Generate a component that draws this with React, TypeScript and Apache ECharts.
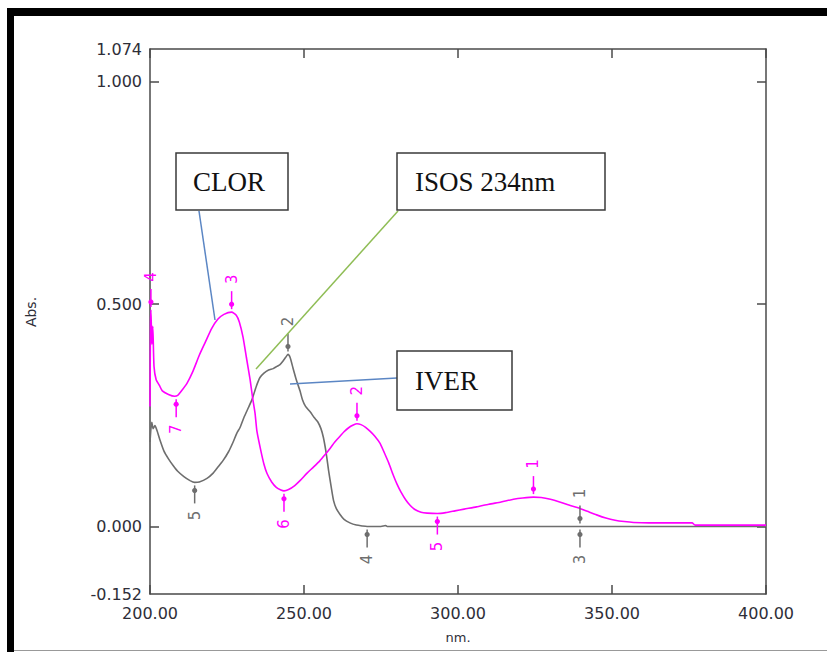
import React, { useEffect, useRef } from "react";
import * as echarts from "echarts";

// Magenta spectrum (CLOR)
const clorNm = [200.0, 200.15, 200.3, 200.6, 200.9, 201.3, 202, 203, 204, 206, 208, 209, 210, 212, 214, 216, 218, 220, 222, 224, 226.5, 228, 229, 230.2, 231.3, 232.5, 233.3, 234.1, 234.7, 236, 237, 238, 239.5, 241, 242.5, 243.5, 245, 247, 248.7, 251, 253, 255.2, 257, 258.4, 260, 261.7, 263, 264.5, 266, 267.2, 268.5, 270, 271.5, 273, 274.7, 276, 277.5, 279, 280.2, 281.5, 283, 284.5, 286, 288, 290, 293.3, 296, 299, 302, 306, 310, 314, 318, 321, 324.5, 327, 330, 333, 336, 339, 342, 345, 348, 351, 354, 357, 362, 370, 376, 377, 390, 400];
const clorAbs = [0.27, 0.45, 0.487, 0.41, 0.45, 0.36, 0.33, 0.318, 0.305, 0.297, 0.293, 0.295, 0.303, 0.322, 0.35, 0.385, 0.415, 0.445, 0.466, 0.477, 0.482, 0.475, 0.46, 0.426, 0.38, 0.33, 0.29, 0.255, 0.215, 0.17, 0.14, 0.119, 0.1, 0.088, 0.082, 0.08, 0.083, 0.092, 0.103, 0.12, 0.133, 0.148, 0.163, 0.175, 0.19, 0.203, 0.213, 0.222, 0.228, 0.231, 0.229, 0.223, 0.214, 0.203, 0.187, 0.167, 0.143, 0.115, 0.095, 0.077, 0.06, 0.047, 0.038, 0.032, 0.03, 0.029, 0.031, 0.035, 0.039, 0.044, 0.05, 0.055, 0.061, 0.064, 0.066, 0.065, 0.061, 0.055, 0.048, 0.042, 0.034, 0.026, 0.019, 0.014, 0.011, 0.009, 0.008, 0.008, 0.008, 0.003, 0.003, 0.003];

// Gray spectrum (IVER)
const iverNm = [200.0, 200.3, 200.6, 201.0, 201.6, 202.3, 203.2, 204.5, 206, 207.5, 209, 211, 213, 214.5, 216, 218.5, 220.5, 222, 223.7, 225.5, 227, 228.2, 229.2, 230.5, 232, 233.2, 234.5, 235.7, 237, 238.5, 240, 241.2, 242.2, 243.2, 244, 244.8, 245.5, 246.4, 247.5, 248.7, 249.5, 250.5, 252, 253.3, 254.5, 255.5, 256.3, 257.2, 258, 258.8, 259.6, 260.5, 261.7, 263, 264.9, 267, 269, 270.5, 275, 276.5, 277, 300, 350, 400];
const iverAbs = [0.19, 0.22, 0.234, 0.22, 0.227, 0.215, 0.195, 0.17, 0.152, 0.137, 0.124, 0.112, 0.103, 0.099, 0.1, 0.108, 0.12, 0.133, 0.148, 0.168, 0.19, 0.21, 0.222, 0.245, 0.268, 0.287, 0.315, 0.335, 0.345, 0.352, 0.355, 0.36, 0.364, 0.372, 0.38, 0.387, 0.38, 0.357, 0.33, 0.305, 0.285, 0.27, 0.258, 0.245, 0.235, 0.22, 0.2, 0.165, 0.125, 0.09, 0.058, 0.04, 0.027, 0.016, 0.008, 0.003, 0.001, 0, 0, 0.002, 0, 0, 0, 0];

// Peak / valley picks: [nm, abs, number, direction(1 = peak, -1 = valley)]
const clorPickNm = [324.5, 267.2, 226.5, 200.3, 293.3, 243.5, 208.5];
const clorPickAbs = [0.066, 0.231, 0.482, 0.487, 0.029, 0.08, 0.293];
const clorPickNum = [1, 2, 3, 4, 5, 6, 7];
const clorPickDir = [1, 1, 1, 1, -1, -1, -1];

const iverPickNm = [339.6, 244.8, 339.6, 270.5, 214.5];
const iverPickAbs = [0, 0.387, 0, 0, 0.099];
const iverPickNum = [1, 2, 3, 4, 5];
const iverPickDir = [1, 1, -1, -1, -1];

const xTickValues = [200, 250, 300, 350, 400];
const yLabelValues = [-0.152, 0, 0.5, 1.0, 1.074];
const yTickValues = [0, 0.5, 1.0];

const MAGENTA = "#ff00ff";
const GRAY = "#6e6e6e";
const AXIS = "#4a4a4a";
const LABEL = "#2e2e38";
const SANS = '"DejaVu Sans", Verdana, sans-serif';
const SERIF = '"Liberation Serif", "Times New Roman", serif';

function pickRenderer(color: string) {
  return (params: any, api: any) => {
    const nm = api.value(0);
    const abs = api.value(1);
    const num = api.value(2);
    const dir = api.value(3);
    const p = api.coord([nm, abs]);
    const s = dir > 0 ? -1 : 1;
    return {
      type: "group",
      children: [
        {
          type: "line",
          shape: { x1: p[0], y1: p[1] + s * 3, x2: p[0], y2: p[1] + s * 21 },
          style: { stroke: color, lineWidth: 1.5 },
        },
        {
          type: "circle",
          shape: { cx: p[0], cy: p[1] + s * 8, r: 2.6 },
          style: { fill: color },
        },
        {
          type: "text",
          x: p[0],
          y: p[1] + s * 33,
          rotation: Math.PI / 2,
          style: {
            text: String(num),
            fill: color,
            font: `15px ${SANS}`,
            align: "center",
            verticalAlign: "middle",
          },
        },
      ],
    };
  };
}

function zip(a: number[], b: number[]) {
  return a.map((v, i) => [v, b[i]]);
}

export default function App() {
  const ref = useRef<HTMLDivElement>(null);
  useEffect(() => {
    if (!ref.current) return;
    const chart = echarts.init(ref.current, undefined, { renderer: "svg" });
    const clorPicks = clorPickNm.map((v, i) => [v, clorPickAbs[i], clorPickNum[i], clorPickDir[i]]);
    const iverPicks = iverPickNm.map((v, i) => [v, iverPickAbs[i], iverPickNum[i], iverPickDir[i]]);
    const axisLine = { show: true, onZero: false, lineStyle: { color: AXIS, width: 1.5 } };
    const baseX = {
      type: "value",
      min: xTickValues[0],
      max: xTickValues[xTickValues.length - 1],
      interval: 50,
      axisLine,
      splitLine: { show: false },
      axisTick: { show: true, inside: true, length: 9, lineStyle: { color: AXIS, width: 1.5 } },
    };
    const baseY = {
      type: "value",
      min: yLabelValues[0],
      max: yLabelValues[yLabelValues.length - 1],
      axisLine,
      splitLine: { show: false },
      axisTick: {
        show: true,
        inside: true,
        length: 9,
        customValues: yTickValues,
        lineStyle: { color: AXIS, width: 1.5 },
      },
    };
    chart.setOption({
      animation: false,
      backgroundColor: "#ffffff",
      grid: { left: 150, top: 49, width: 616, height: 545, containLabel: false },
      xAxis: [
        {
          ...baseX,
          position: "bottom",
          name: "nm.",
          nameLocation: "middle",
          nameGap: 37,
          nameTextStyle: { color: LABEL, fontSize: 13, fontFamily: SANS },
          axisLabel: {
            show: true,
            margin: 11,
            color: LABEL,
            fontSize: 16,
            fontFamily: SANS,
            formatter: (v: number) => v.toFixed(2),
          },
        },
        { ...baseX, position: "top", axisLabel: { show: false } },
      ],
      yAxis: [
        {
          ...baseY,
          position: "left",
          axisLabel: {
            show: true,
            margin: 8,
            color: LABEL,
            fontSize: 16,
            fontFamily: SANS,
            customValues: yLabelValues,
            formatter: (v: number) => v.toFixed(3),
          },
        },
        { ...baseY, position: "right", axisLabel: { show: false } },
      ],
      series: [
        {
          name: "IVER",
          type: "line",
          data: zip(iverNm, iverAbs),
          showSymbol: false,
          smooth: 0.2,
          lineStyle: { color: GRAY, width: 1.6 },
          z: 2,
        },
        {
          name: "CLOR",
          type: "line",
          data: zip(clorNm, clorAbs),
          showSymbol: false,
          smooth: 0.2,
          lineStyle: { color: MAGENTA, width: 1.6 },
          z: 3,
        },
        {
          type: "custom",
          renderItem: pickRenderer(GRAY),
          data: iverPicks,
          encode: { x: 0, y: 1 },
          clip: false,
          z: 4,
        },
        {
          type: "custom",
          renderItem: pickRenderer(MAGENTA),
          data: clorPicks,
          encode: { x: 0, y: 1 },
          clip: false,
          z: 5,
        },
      ],
      graphic: [
        { type: "rect", shape: { x: 7, y: 8, width: 820, height: 8 }, style: { fill: "#000" }, z: 100 },
        { type: "rect", shape: { x: 7, y: 8, width: 7, height: 644 }, style: { fill: "#000" }, z: 100 },
        { type: "line", shape: { x1: 14, y1: 650.5, x2: 827, y2: 650.5 }, style: { stroke: "#999", lineWidth: 1 }, z: 100 },
        // y axis title
        { type: "text", x: 31, y: 312, rotation: Math.PI / 2, style: { text: "Abs.", fill: LABEL, font: `14px ${SANS}`, align: "center", verticalAlign: "middle" }, z: 100 },
        // leader lines
        { type: "line", shape: { x1: 199, y1: 211, x2: 215, y2: 320 }, style: { stroke: "#5b86c4", lineWidth: 1.5 }, z: 50 },
        { type: "line", shape: { x1: 398, y1: 211, x2: 256, y2: 369 }, style: { stroke: "#8fbd55", lineWidth: 1.5 }, z: 50 },
        { type: "line", shape: { x1: 397, y1: 378, x2: 290, y2: 384 }, style: { stroke: "#5b86c4", lineWidth: 1.5 }, z: 50 },
        // boxes
        { type: "rect", shape: { x: 176, y: 153, width: 112, height: 57 }, style: { fill: "#fff", stroke: "#3a3a3a", lineWidth: 1.5 }, z: 60 },
        { type: "text", x: 193, y: 182, style: { text: "CLOR", fill: "#111", font: `27px ${SERIF}`, verticalAlign: "middle" }, z: 61 },
        { type: "rect", shape: { x: 397, y: 153, width: 208, height: 57 }, style: { fill: "#fff", stroke: "#3a3a3a", lineWidth: 1.5 }, z: 60 },
        { type: "text", x: 415, y: 182, style: { text: "ISOS 234nm", fill: "#111", font: `27px ${SERIF}`, verticalAlign: "middle" }, z: 61 },
        { type: "rect", shape: { x: 397, y: 351, width: 115, height: 59 }, style: { fill: "#fff", stroke: "#3a3a3a", lineWidth: 1.5 }, z: 60 },
        { type: "text", x: 415, y: 381, style: { text: "IVER", fill: "#111", font: `27px ${SERIF}`, verticalAlign: "middle" }, z: 61 },
      ],
    } as any);
    return () => chart.dispose();
  }, []);
  return (
    <div
      ref={ref}
      style={{ position: "absolute", left: 0, top: 0, width: 827, height: 652 }}
    />
  );
}
